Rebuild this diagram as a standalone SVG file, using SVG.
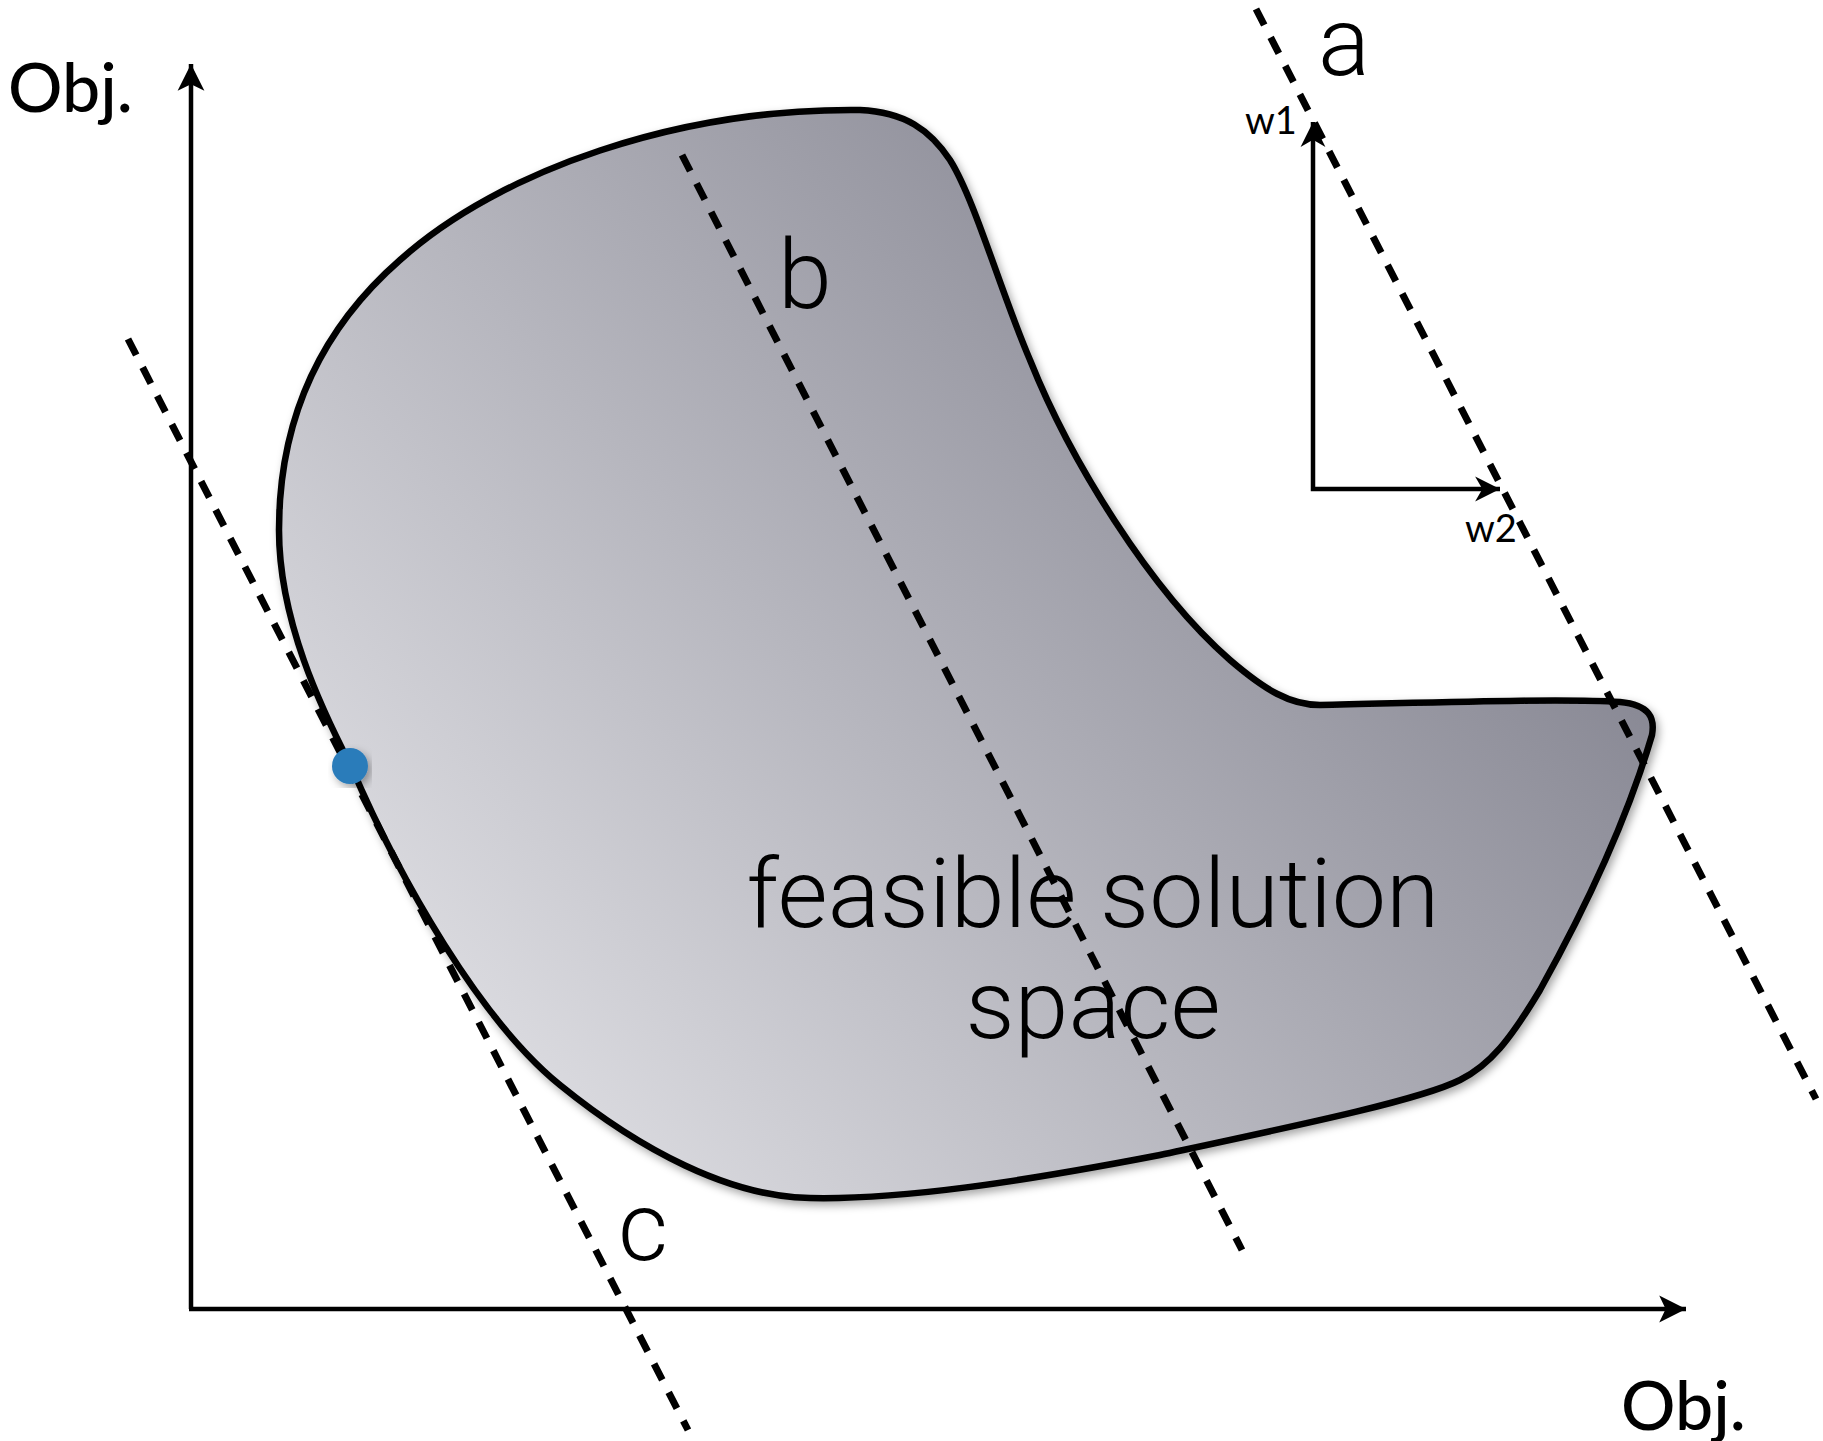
<svg xmlns="http://www.w3.org/2000/svg" width="1823" height="1441" viewBox="0 0 1823 1441">
  <style>
    .axis { stroke: #000; stroke-width: 4.5; fill: none; }
    .vec { stroke: #000; stroke-width: 4.5; fill: none; }
    .dash { stroke: #000; stroke-width: 7; stroke-dasharray: 18 14; fill: none; }
    .lbl { font-family: Roboto, "Liberation Sans", sans-serif; font-weight: 300; font-size: 97px; fill: #000; }
    .obj { font-family: Lato, "Liberation Sans", sans-serif; font-weight: 500; font-size: 68px; fill: #000; }
    .w { font-family: Lato, "Liberation Sans", sans-serif; font-size: 38px; fill: #000; }
  </style>
  <defs>
    <marker id="ah" markerUnits="userSpaceOnUse" markerWidth="30" markerHeight="30" viewBox="-26 -13 28 26" refX="0" refY="0" orient="auto">
      <path d="M0,0 L-25,-12.5 L-19,0 L-25,12.5 Z" fill="#000"/>
    </marker>
    <marker id="ahs" markerUnits="userSpaceOnUse" markerWidth="28" markerHeight="28" viewBox="-25 -13 27 26" refX="0" refY="0" orient="auto-start-reverse">
      <path d="M0,0 L-24,-12 L-17,0 L-24,12 Z" fill="#000"/>
    </marker>
    <linearGradient id="fill" gradientUnits="userSpaceOnUse" x1="380" y1="1150" x2="1350" y2="300">
      <stop offset="0" stop-color="#e6e6ea"/>
      <stop offset="1" stop-color="#868692"/>
    </linearGradient>
    <filter id="sh" x="-10%" y="-10%" width="120%" height="120%">
      <feDropShadow dx="3" dy="4" stdDeviation="4" flood-color="#000" flood-opacity="0.35"/>
    </filter>
  </defs>

  <g id="region">
    <path d="M860,110 C905,112 930,130 950,160 C975,200 1000,290 1030,360 C1070,460 1150,590 1230,660 C1265,690 1290,705 1320,705 C1420,703 1560,698 1620,702 C1650,705 1655,718 1652,735 C1630,810 1590,900 1540,990 C1510,1040 1490,1065 1460,1080 C1420,1100 1300,1125 1160,1155 C1020,1182 900,1200 810,1198 C730,1197 640,1150 560,1085 C480,1020 400,880 351,766 C321,708 279,620 279,530 C279,420 320,330 400,260 C500,170 680,108 860,110 Z" fill="url(#fill)" stroke="#000" stroke-width="6.5" filter="url(#sh)"/>
    <text class="lbl" x="1093" y="927" text-anchor="middle">feasible solution</text>
    <text class="lbl" x="1093" y="1038" text-anchor="middle">space</text>
  </g>

  <g id="axes">
    <line class="axis" x1="191" y1="1309" x2="191" y2="64" marker-end="url(#ah)"/>
    <line class="axis" x1="189" y1="1309" x2="1686" y2="1309" marker-end="url(#ah)"/>
    <text class="obj" x="8" y="112">Obj.</text>
    <text class="obj" x="1621" y="1430">Obj.</text>
  </g>

  <g id="weights">
    <polyline class="vec" points="1313,122 1313,489 1500,489" marker-start="url(#ahs)" marker-end="url(#ahs)"/>
    <text class="w" x="1245" y="134">w1</text>
    <text class="w" x="1465" y="542">w2</text>
  </g>

  <g id="lines">
    <line class="dash" x1="1256" y1="9" x2="1816" y2="1099"/>
    <line class="dash" x1="682" y1="155" x2="1242" y2="1250"/>
    <line class="dash" x1="128" y1="339" x2="688" y2="1430"/>
  </g>

  <g id="line-labels">
    <text class="lbl" x="1318" y="75">a</text>
    <text class="lbl" x="778" y="308">b</text>
    <text class="lbl" x="618" y="1260">c</text>
  </g>

  <g id="point">
    <circle cx="350" cy="766" r="18" fill="#2b7cba" filter="url(#sh)"/>
  </g>
</svg>
